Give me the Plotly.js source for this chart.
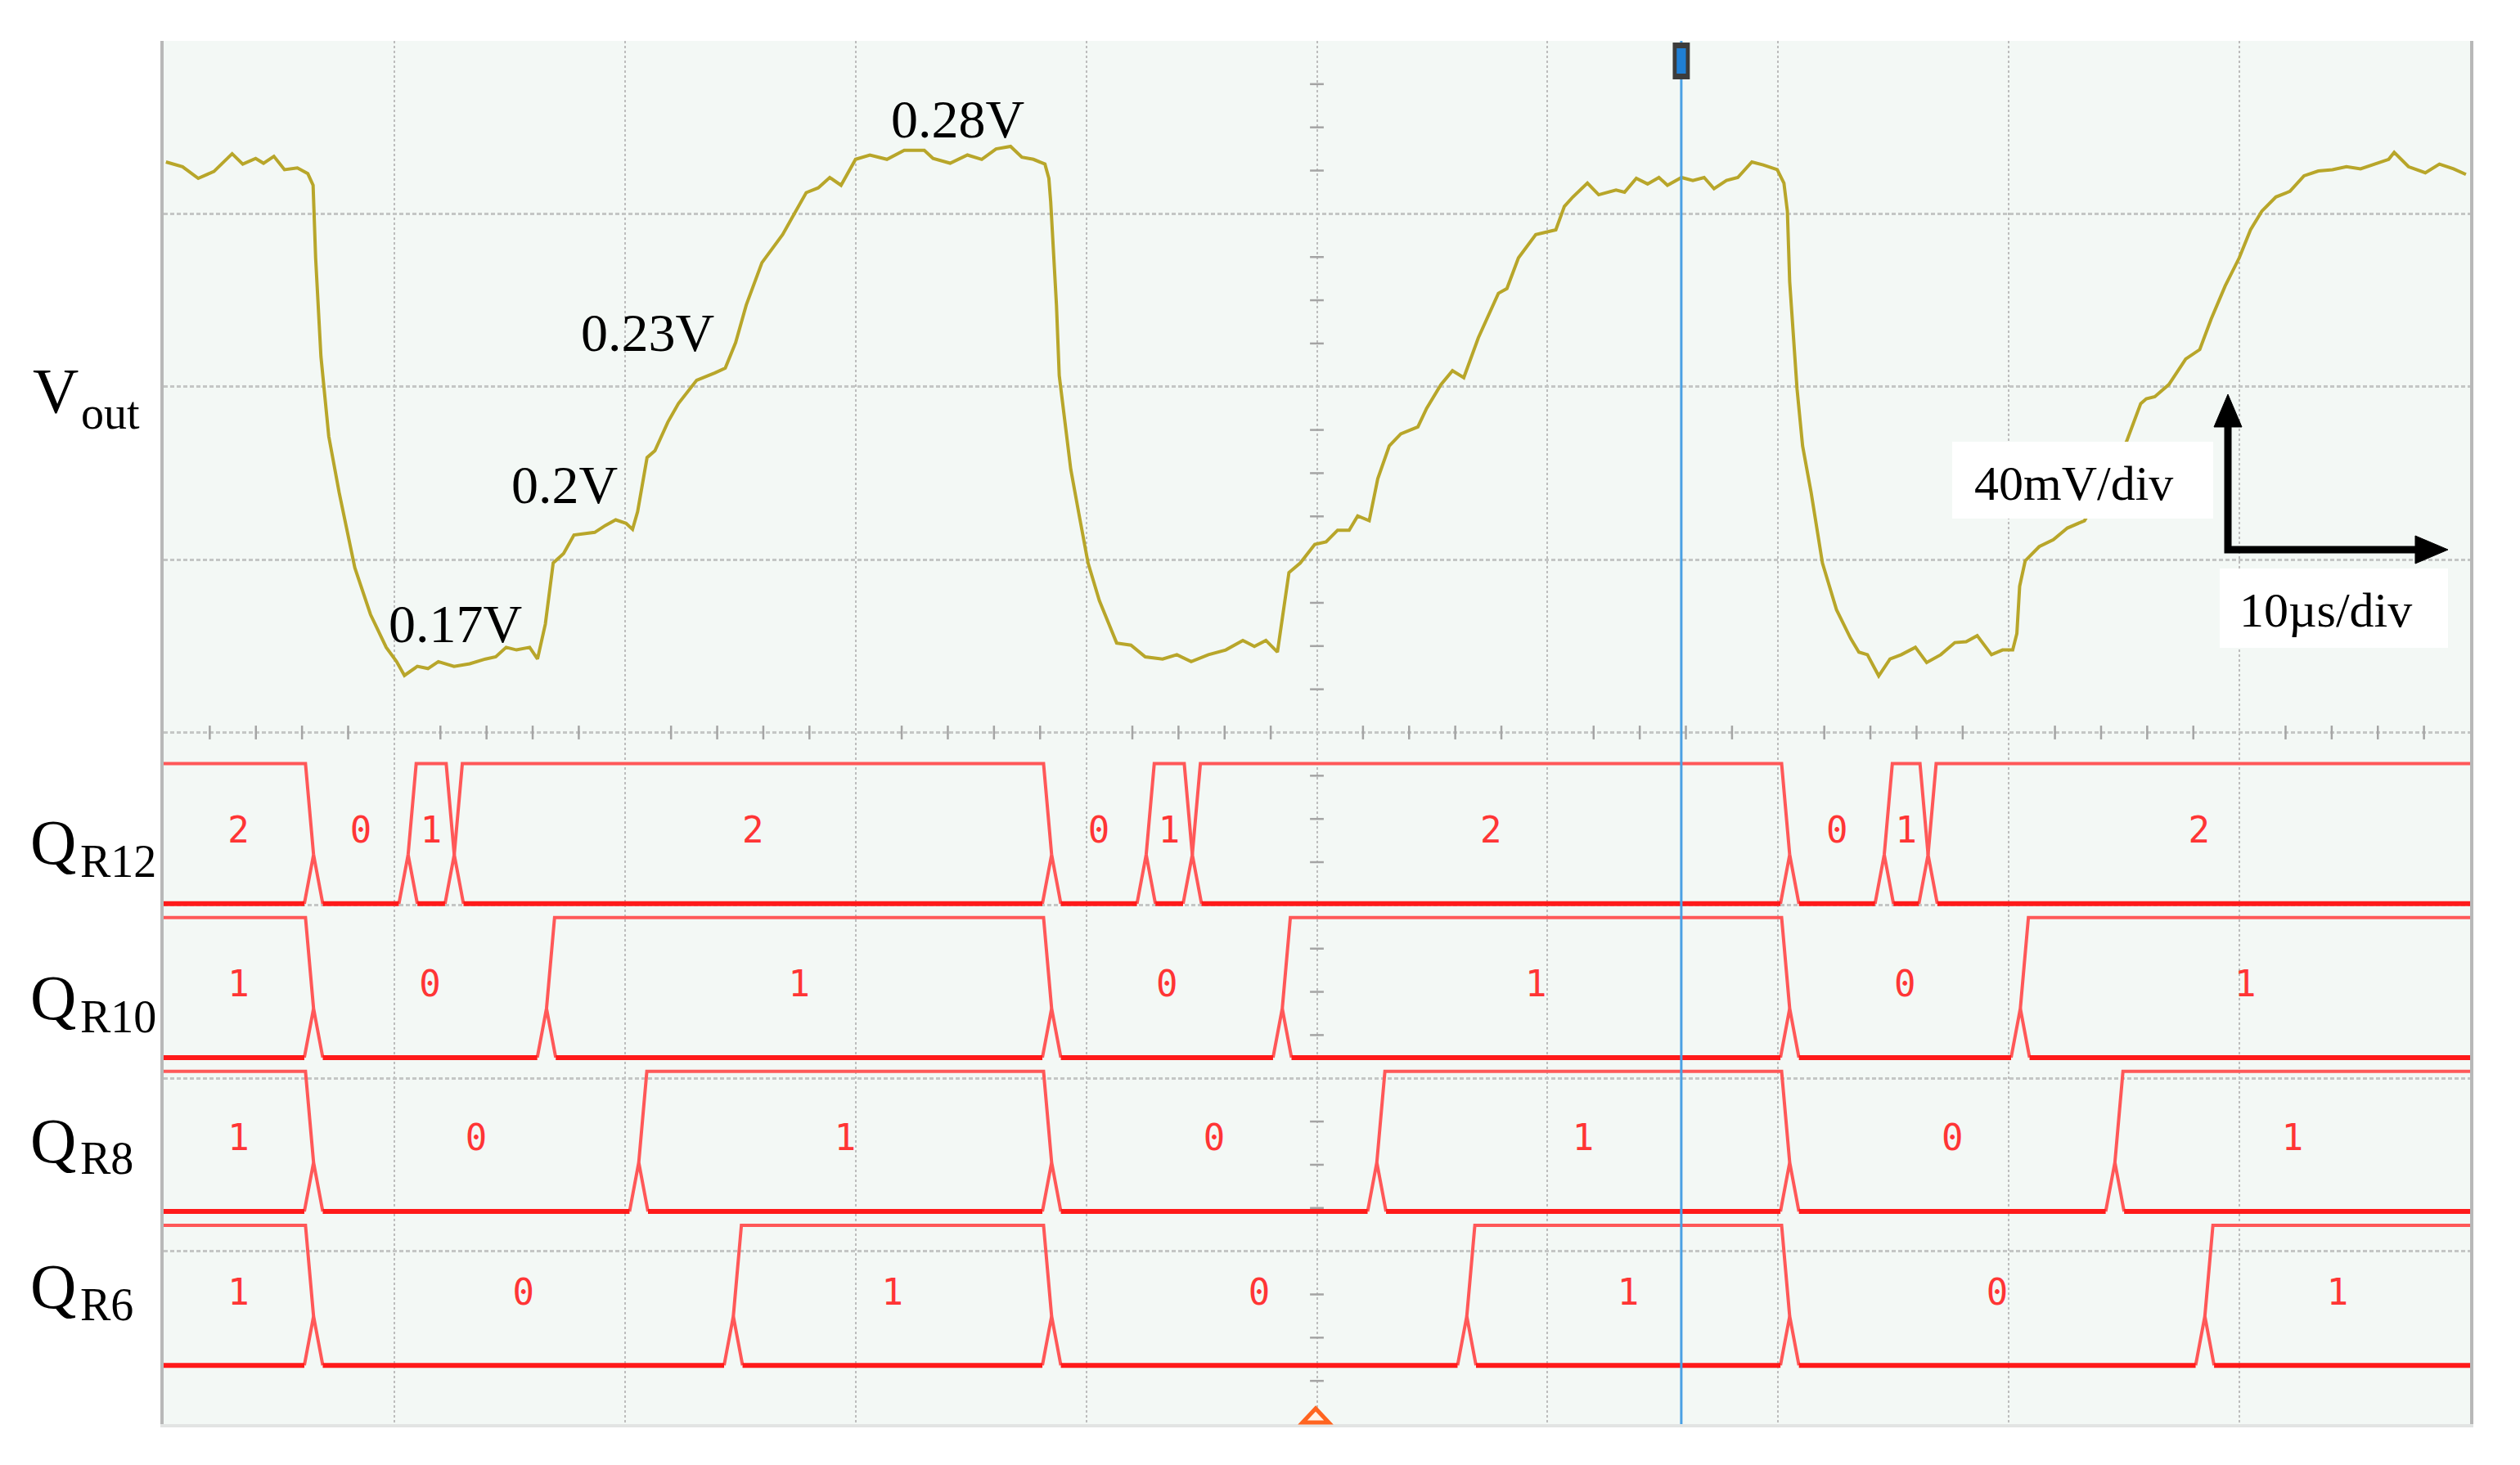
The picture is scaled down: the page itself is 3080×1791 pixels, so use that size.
<!DOCTYPE html>
<html><head><meta charset="utf-8">
<script src="https://cdn.plot.ly/plotly-3.0.1.min.js"></script>
<style>html,body{margin:0;padding:0;background:#fff;}#chart{width:3080px;height:1791px;}</style>
</head><body><div id="chart"></div>
<script>
// ---------- DATA ----------
// Vout: time in µs (10 µs/div), voltage in V (40 mV/div)
const voutTime = [0.10,0.82,1.50,2.18,2.97,3.43,3.99,4.33,4.78,5.24,5.80,6.25,6.48,6.59,6.82,7.16,7.61,8.29,8.97,9.65,10.10,10.44,11.00,11.46,11.91,12.59,13.27,13.95,14.40,14.85,15.30,15.87,16.21,16.55,16.89,17.34,17.79,18.69,19.15,19.60,20.05,20.33,20.55,20.96,21.30,21.86,22.32,23.11,23.90,24.35,24.80,25.26,25.94,26.84,27.29,27.86,28.38,
28.88,29.37,30.00,30.62,31.36,32.11,32.98,33.36,34.10,34.85,35.47,36.09,36.72,37.21,37.71,38.21,38.38,38.46,38.58,38.71,38.83,39.08,39.33,39.70,40.08,40.57,41.32,41.94,42.56,43.31,43.93,44.55,45.30,46.05,46.79,47.29,47.79,48.29,48.54,48.79,49.28,49.91,50.40,50.90,51.40,51.77,52.27,52.64,53.14,53.64,54.38,54.76,55.38,55.88,56.37,57.00,57.87,58.24,58.74,59.49,60.36,60.73,61.10,61.73,62.22,62.97,63.34,
63.85,64.34,64.83,65.20,65.81,66.30,66.79,67.22,67.76,68.25,68.86,69.35,69.96,70.25,70.40,70.50,70.65,70.82,71.06,71.43,71.92,72.53,73.14,73.50,73.87,74.36,74.85,75.34,75.95,76.44,77.05,77.66,78.15,78.63,79.25,79.73,80.17,80.35,80.47,80.71,81.32,81.93,82.54,83.28,83.77,84.40,85.11,85.72,85.96,86.33,86.94,87.67,88.28,88.77,89.38,89.99,90.48,90.97,91.58,92.19,92.80,93.42,94.03,94.64,95.25,95.86,96.47,96.71,97.33,98.06,98.67,99.28,99.82];
const voutVolt = [0.2856,0.2845,0.2818,0.2834,0.2875,0.2851,0.2864,0.2853,0.2869,0.2838,0.2842,0.2829,0.2802,0.2634,0.2406,0.2221,0.2091,0.1917,0.1809,0.1733,0.1700,0.1668,0.1689,0.1684,0.1700,0.1689,0.1695,0.1706,0.1711,0.1733,0.1727,0.1733,0.1706,0.1787,0.1928,0.1950,0.1993,0.1999,0.2015,0.2028,0.2020,0.2006,0.2047,0.2172,0.2188,0.2254,0.2297,0.2351,0.2368,0.2379,0.2438,0.2525,0.2623,0.2688,0.2731,0.2785,0.2796,
0.2820,0.2802,0.2862,0.2872,0.2862,0.2883,0.2883,0.2864,0.2853,0.2872,0.2862,0.2886,0.2892,0.2867,0.2862,0.2851,0.2818,0.2764,0.2655,0.2525,0.2362,0.2254,0.2145,0.2037,0.1928,0.1841,0.1743,0.1738,0.1711,0.1706,0.1716,0.1700,0.1716,0.1727,0.1749,0.1735,0.1749,0.1722,0.1820,0.1906,0.1928,0.1971,0.1977,0.2004,0.2004,0.2037,0.2026,0.2123,0.2199,0.2227,0.2243,0.2286,0.2341,0.2373,0.2357,0.2449,0.2552,0.2563,0.2634,0.2688,0.2699,0.2753,0.2775,0.2807,0.2780,0.2791,0.2786,
0.2818,0.2805,0.2820,0.2802,0.2820,0.2813,0.2820,0.2794,0.2813,0.2820,0.2856,0.2849,0.2838,0.2807,0.2742,0.2579,0.2449,0.2330,0.2199,0.2091,0.1928,0.1820,0.1754,0.1722,0.1716,0.1667,0.1706,0.1716,0.1733,0.1698,0.1716,0.1744,0.1746,0.1760,0.1716,0.1727,0.1727,0.1765,0.1874,0.1933,0.1966,0.1982,0.2009,0.2026,0.2070,0.2140,0.2210,0.2297,0.2308,0.2313,0.2341,0.2400,0.2422,0.2492,0.2569,0.2634,0.2699,0.2742,0.2775,0.2788,0.2824,0.2835,0.2838,0.2845,0.2840,0.2851,0.2862,0.2878,0.2845,0.2831,0.2851,0.2840,0.2827];

// Digital bus channels: transition times (µs) and states between transitions
const qr12Edges  = [6.5, 10.6, 12.6, 38.5, 42.6, 44.6, 70.5, 74.6, 76.5];
const qr12States = [2, 0, 1, 2, 0, 1, 2, 0, 1, 2];
const qr10Edges  = [6.5, 16.6, 38.5, 48.5, 70.5, 80.5];
const qr10States = [1, 0, 1, 0, 1, 0, 1];
const qr8Edges   = [6.5, 20.6, 38.5, 52.6, 70.5, 84.6];
const qr8States  = [1, 0, 1, 0, 1, 0, 1];
const qr6Edges   = [6.5, 24.7, 38.5, 56.5, 70.5, 88.5];
const qr6States  = [1, 0, 1, 0, 1, 0, 1];

const channelMain = ['Q', 'Q', 'Q', 'Q'];
const channelSub  = ['R12', 'R10', 'R8', 'R6'];
const voltLabels  = ['0.28V', '0.23V', '0.2V', '0.17V'];
const scaleLabels = ['40mV/div', '10µs/div'];
const cursorTime  = 65.8;
const timeRange   = [0, 100];

// ---------- LAYOUT HELPERS ----------
const L = 200, T = 50, W = 2819, H = 1691;
const px = x => (x - L) / W;
const py = y => 1 - (y - T) / H;

const RED = '#ff1a1a', RED_LIGHT = '#ff5858';
const laneBase = [3.01, 2.12, 1.23, 0.34];   // in divisions
const laneH = 0.81;

function laneTraces(edges, states, base) {
  const w = 0.35, ws = 0.4, top = base + laneH, apex = base + 0.35 * laneH;
  // thick baseline, broken at each transition
  const bx = [timeRange[0]], by = [base];
  edges.forEach(t => { bx.push(t - ws, null, t + ws); by.push(base, null, base); });
  bx.push(timeRange[1]); by.push(base);
  // light lines: transition spikes + upper line of non-zero states
  const tx = [], ty = [];
  edges.forEach(t => { tx.push(t - ws, t, t + ws, null); ty.push(base, apex, base, null); });
  const bounds = [timeRange[0], ...edges, timeRange[1]];
  const lx = [], ly = [], lt = [];
  for (let i = 0; i < states.length; i++) {
    const a = bounds[i], b = bounds[i + 1];
    lx.push((a + b) / 2); ly.push(base + laneH / 2); lt.push(String(states[i]));
    if (states[i] === 0) continue;
    if (i === 0) { tx.push(a); ty.push(top); } else { tx.push(a, a + w); ty.push(apex, top); }
    if (i === states.length - 1) { tx.push(b); ty.push(top); } else { tx.push(b - w, b); ty.push(top, apex); }
    tx.push(null); ty.push(null);
  }
  return [
    {x: tx, y: ty, yaxis: 'y2', mode: 'lines', line: {color: RED_LIGHT, width: 4}, hoverinfo: 'skip'},
    {x: bx, y: by, yaxis: 'y2', mode: 'lines', line: {color: RED, width: 6}, hoverinfo: 'skip'},
    {x: lx, y: ly, yaxis: 'y2', mode: 'text', text: lt, textposition: 'middle center',
     textfont: {family: 'DejaVu Sans Mono', size: 44, color: '#ff3535'}, hoverinfo: 'skip'}
  ];
}

// graticule minor ticks on the centre lines
const hTickX = [], hTickY = [], vTickX = [], vTickY = [];
for (let k = 1; k < 50; k++) if (k % 5) { hTickX.push(k * 2); hTickY.push(4); }
for (let k = 1; k < 32; k++) if (k % 4) { vTickX.push(50); vTickY.push(k * 0.25); }

const traces = [
  {x: hTickX, y: hTickY, yaxis: 'y2', mode: 'markers', hoverinfo: 'skip',
   marker: {symbol: 'line-ns', size: 12, color: '#a4a4a4', line: {width: 2.5, color: '#a4a4a4'}}},
  {x: vTickX, y: vTickY, yaxis: 'y2', mode: 'markers', hoverinfo: 'skip',
   marker: {symbol: 'line-ew', size: 12, color: '#a4a4a4', line: {width: 2.5, color: '#a4a4a4'}}},
  {x: voutTime, y: voutVolt, mode: 'lines', line: {color: '#b8a62a', width: 4}, hoverinfo: 'skip'},
  ...laneTraces(qr12Edges, qr12States, laneBase[0]),
  ...laneTraces(qr10Edges, qr10States, laneBase[1]),
  ...laneTraces(qr8Edges, qr8States, laneBase[2]),
  ...laneTraces(qr6Edges, qr6States, laneBase[3])
];

const serif = 'Liberation Serif';
const ann = (text, x, y, size, xanchor) => ({
  text, xref: 'paper', yref: 'paper', x: px(x), y: py(y), xanchor: xanchor || 'left', yanchor: 'middle',
  showarrow: false, font: {family: serif, size, color: '#000'}
});

const mainY = [1029, 1219, 1394, 1572];
const subY  = [1053, 1243, 1416, 1595];
const annotations = [
  ann('V', 38, 477, 78), ann('out', 97, 505, 56),
  ...channelMain.map((m, i) => ann(m, 35, mainY[i], 78)),
  ...channelSub.map((s, i) => ann(s, 96, subY[i], 56)),
  ann(voltLabels[0], 1170, 145, 66, 'center'),
  ann(voltLabels[1], 791, 406, 66, 'center'),
  ann(voltLabels[2], 690, 593, 66, 'center'),
  ann(voltLabels[3], 556, 762, 66, 'center'),
  ann(scaleLabels[0], 2534, 591, 60, 'center'),
  ann(scaleLabels[1], 2842, 746, 60, 'center')
];

const P = (x, y) => px(x).toFixed(5) + ',' + py(y).toFixed(5);
const shapes = [
  // cursor
  {type: 'line', xref: 'x', yref: 'paper', x0: cursorTime, x1: cursorTime, y0: 0, y1: 1,
   line: {color: '#4aa0e4', width: 3}, layer: 'above'},
  {type: 'rect', xref: 'x', yref: 'paper', x0: cursorTime - 0.37, x1: cursorTime + 0.37, y0: py(97), y1: py(52),
   fillcolor: '#3c3c3c', line: {width: 0}, layer: 'above'},
  {type: 'rect', xref: 'x', yref: 'paper', x0: cursorTime - 0.2, x1: cursorTime + 0.2, y0: py(90), y1: py(59),
   fillcolor: '#1f7fd4', line: {width: 0}, layer: 'above'},
  // trigger marker
  {type: 'path', xref: 'paper', yref: 'paper', path: 'M' + P(1592, 1739) + 'L' + P(1608, 1722) + 'L' + P(1624, 1739) + 'Z',
   fillcolor: '#fff2e8', line: {color: '#ff6420', width: 5}, layer: 'above'},
  // scale boxes
  {type: 'rect', xref: 'paper', yref: 'paper', x0: px(2386), x1: px(2705), y0: py(634), y1: py(540),
   fillcolor: '#ffffff', line: {width: 0}, layer: 'above'},
  {type: 'rect', xref: 'paper', yref: 'paper', x0: px(2713), x1: px(2992), y0: py(792), y1: py(695),
   fillcolor: '#ffffff', line: {width: 0}, layer: 'above'},
  // scale arrows
  {type: 'path', xref: 'paper', yref: 'paper', path: 'M' + P(2723, 515) + 'L' + P(2723, 672) + 'L' + P(2958, 672),
   line: {color: '#000', width: 9}, layer: 'above'},
  {type: 'path', xref: 'paper', yref: 'paper', path: 'M' + P(2723, 482) + 'L' + P(2706, 522) + 'L' + P(2740, 522) + 'Z',
   fillcolor: '#000', line: {color: '#000', width: 1}, layer: 'above'},
  {type: 'path', xref: 'paper', yref: 'paper', path: 'M' + P(2992, 672) + 'L' + P(2952, 655) + 'L' + P(2952, 689) + 'Z',
   fillcolor: '#000', line: {color: '#000', width: 1}, layer: 'above'}
];

const layout = {
  width: 3080, height: 1791,
  margin: {l: L, r: 3080 - L - W, t: T, b: 1791 - T - H},
  paper_bgcolor: '#ffffff', plot_bgcolor: '#f3f8f5',
  showlegend: false,
  xaxis: {range: timeRange, tickvals: [10, 20, 30, 40, 50, 60, 70, 80, 90], showticklabels: false, ticks: '',
          showgrid: true, gridcolor: '#bdbdbd', gridwidth: 2, griddash: 'dot', zeroline: false,
          showline: true, mirror: false, linecolor: '#e2e4e3', linewidth: 4},
  yaxis: {range: [-0.0064, 0.3136], showgrid: false, showticklabels: false, ticks: '', zeroline: false,
          showline: true, mirror: true, linecolor: '#b8b8b8', linewidth: 4},
  yaxis2: {range: [0, 8], overlaying: 'y', tickvals: [1, 2, 3, 4, 5, 6, 7], showticklabels: false, ticks: '',
           showgrid: true, gridcolor: '#c4c6c5', gridwidth: 3, griddash: '5px,3px', zeroline: false, showline: false},
  annotations, shapes
};

Plotly.newPlot('chart', traces, layout, {displayModeBar: false, staticPlot: true});
</script>
</body></html>
